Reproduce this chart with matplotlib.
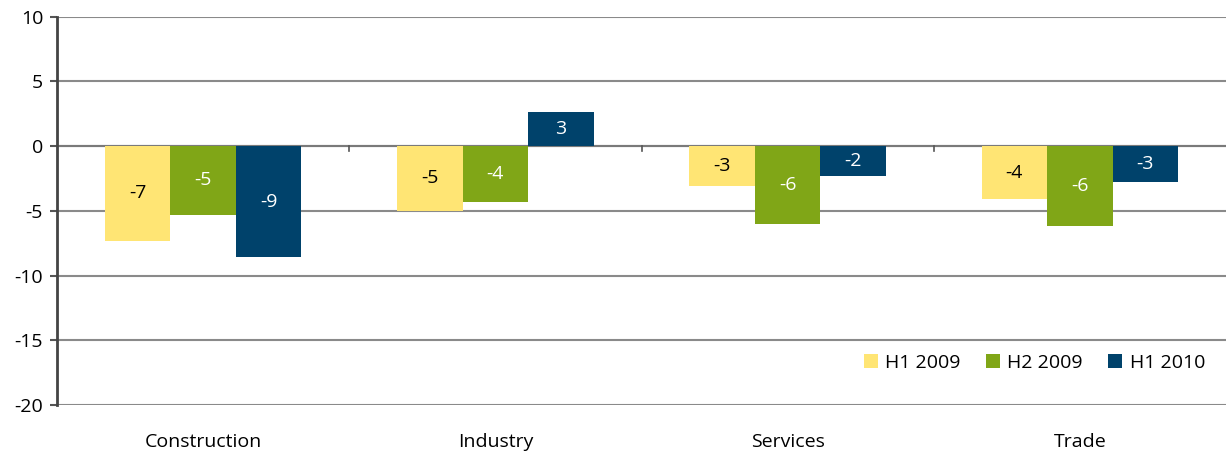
import matplotlib
matplotlib.use("Agg")
import matplotlib.pyplot as plt
import numpy as np

categories = ["Construction", "Industry", "Services", "Trade"]
series_names = ["H1 2009", "H2 2009", "H1 2010"]
h1_2009 = [-7.3, -5.0, -3.1, -4.1]
h2_2009 = [-5.3, -4.35, -6.05, -6.2]
h1_2010 = [-8.6, 2.65, -2.3, -2.8]
colors = ["#FFE574", "#80A617", "#00426B"]
label_colors = ["black", "white", "white"]
yticks = [-20, -15, -10, -5, 0, 5, 10]

plt.rcParams['font.family'] = ['Open Sans', 'DejaVu Sans']
FS = 14

fig = plt.figure(figsize=(12.28, 4.51), dpi=100)
ax = fig.add_axes([0.0464, 0.102, 0.952, 0.861])

x = np.arange(len(categories))
w = 0.224
series = [h1_2009, h2_2009, h1_2010]
for i, (vals, c, lc, name) in enumerate(zip(series, colors, label_colors, series_names)):
    pos = x + (i - 1) * w
    bars = ax.bar(pos, vals, width=w, color=c, label=name, zorder=3)
    for b, v in zip(bars, vals):
        ax.text(b.get_x() + b.get_width() / 2, v / 2, f"{round(v):d}",
                ha="center", va="center", color=lc, fontsize=FS, zorder=4)

ax.set_ylim(-20, 10)
ax.set_xlim(-0.5, len(categories) - 0.5)
ax.set_yticks(yticks)
ax.set_yticklabels([str(t) for t in yticks], fontsize=FS)
ax.yaxis.grid(True, color="#8A8A8A", linewidth=1.5, zorder=1)
ax.set_axisbelow(True)

ax.set_xticks(x)
ax.set_xticklabels(categories, fontsize=FS)
ax.tick_params(axis="x", length=0, pad=20)
ax.tick_params(axis="y", length=5, width=1.5, color="#555555", pad=5)

for s in ["top", "right", "bottom"]:
    ax.spines[s].set_visible(False)
ax.spines["left"].set_color("#444444")
ax.spines["left"].set_linewidth(2)

# zero axis line with category boundary ticks
ax.axhline(0, color="#7A7A7A", linewidth=1.5, zorder=2)
for bnd in [0.5, 1.5, 2.5]:
    ax.plot([bnd, bnd], [0, -0.35], color="#555555", linewidth=1.2, zorder=2)

leg = ax.legend(loc="lower right", bbox_to_anchor=(0.997, 0.04), ncol=3, frameon=False,
                fontsize=FS, handlelength=0.7, handleheight=0.7, handletextpad=0.4,
                columnspacing=1.3)

fig.savefig("out.png", dpi=100, facecolor="white")
